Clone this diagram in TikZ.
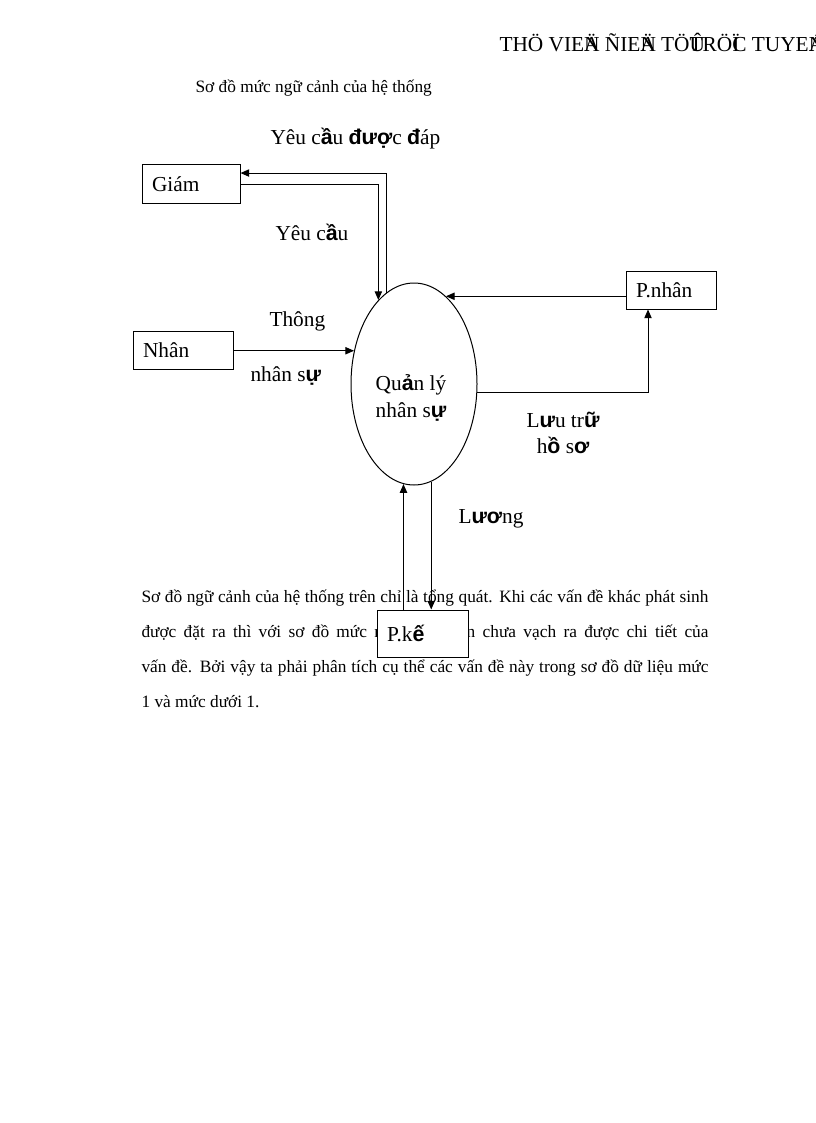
\documentclass[tikz,border=0pt]{standalone}
\usepackage{fontspec}
\setmainfont{Liberation Serif}
\newfontfamily\vnsans{Liberation Sans}
\usetikzlibrary{shapes.geometric,arrows.meta}
\newcommand{\vb}[1]{{\vnsans\bfseries #1}}

\begin{document}
\begin{tikzpicture}[x=0.75pt,y=-0.75pt,line width=0.75pt,
		>={Triangle[length=6.5pt,width=5.5pt]},
		lbl/.style={font=\fontsize{16}{20}\selectfont,inner sep=0pt,anchor=base west},
		txt/.style={font=\fontsize{13}{16}\selectfont,inner sep=0pt,anchor=base west},
		box/.style={draw,fill=white,font=\fontsize{16}{20}\selectfont,align=left,inner xsep=7.5pt,inner ysep=0pt}]
			\useasboundingbox (0,0) rectangle (816,1123);
			\node[txt,font=\fontsize{16}{20}\selectfont] (hdr) at (499,52) {THÖ VIE\rlap{Ä}N ÑIE\rlap{Ä}N TÖ\rlap{Û}TRÖ\rlap{Ï}C TUYE\rlap{Á}N};
			\node[txt] (tieude) at (195,93) {Sơ đồ mức ngữ cảnh của hệ thống};
			% doan van ben duoi
			\node[txt] (l1) at (141,602) {\makebox[425.25pt][s]{Sơ đồ ngữ cảnh của hệ thống trên chỉ là tổng quát. Khi các vấn đề khác phát sinh}};
			\node[txt] (l2) at (141,637) {\makebox[425.25pt][s]{được đặt ra thì\ với sơ đồ mức ngữ cảnh trên chưa vạch ra được chi tiết của}};
			\node[txt] (l3) at (141,672) {\makebox[425.25pt][s]{vấn đề. Bởi vậy ta phải phân tích cụ thể các vấn đề này trong sơ đồ dữ liệu mức}};
			\node[txt] (l4) at (141,707) {1 và mức dưới 1.};
			% so do ngu canh
			\node[draw,ellipse,minimum width=94.5pt,minimum height=151.5pt,inner sep=0pt] (ql) at (414,384) {};
			\node[lbl,anchor=base] (qla) at (411,390) {Qu\vb{ả}n lý};
			\node[lbl,anchor=base] (qlb) at (411,417) {nhân s\vb{ự}};
			\node[box,text width=58.5pt,minimum height=29.25pt] (giam) at (191,184.5) {Giám};
			\node[box,text width=60pt,minimum height=28.5pt] (nhan) at (183,350) {Nhân};
			\node[box,text width=52.5pt,minimum height=28.5pt] (pnhan) at (671,290) {P.nhân};
			\node[box,text width=53.25pt,minimum height=35.25pt] (pke) at (422.5,633.5) {P.k\vb{ế}};
			\draw[->] (giam.east) -| (ql.113.5);
			\draw[->] (ql.107.2) |- ([yshift=8.6pt]giam.east);
			\draw[->] (nhan.east |- ql.151.8) -- (ql.151.8);
			\draw[->] (pnhan.west |- ql.70.6) -- (ql.70.6);
			\draw[->] (ql.352.7) -| ([xshift=-17.25pt]pnhan.south);
			\draw[->] (pke.north -| ql.264.9) -- (ql.264.9);
			\draw[->] (ql.280.5) -- (ql.280.5 |- pke.north);
			\node[lbl] (ycdd) at (270,145) {Yêu c\vb{ầ}u \vb{đượ}c \vb{đ}áp};
			\node[lbl] (yc) at (275,240) {Yêu c\vb{ầ}u};
			\node[lbl] (thong) at (269,326) {Thông};
			\node[lbl] (nhansu) at (250,381) {nhân s\vb{ự}};
			\node[lbl,anchor=base] (luutru) at (563,427) {L\vb{ư}u tr\vb{ữ}};
			\node[lbl,anchor=base] (hoso) at (563,453) {h\vb{ồ} s\vb{ơ}};
			\node[lbl] (luong) at (458,523) {L\vb{ươ}ng};
		\end{tikzpicture}
\end{document}
